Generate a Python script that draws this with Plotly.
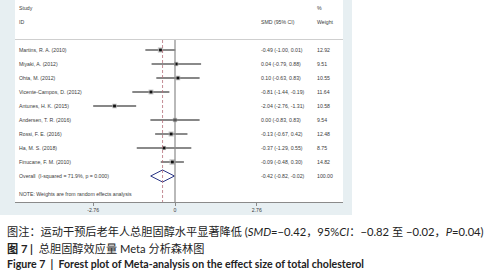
import plotly.graph_objects as go

studies = ["Martins, R. A. (2010)", "Miyaki, A. (2012)", "Ohta, M. (2012)",
           "Vicente-Campos, D. (2012)", "Antunes, H. K. (2015)", "Andersen, T. R. (2016)",
           "Rossi, F. E. (2016)", "Ha, M. S. (2018)", "Finucane, F. M. (2010)"]
smd = [-0.49, 0.04, 0.10, -0.81, -2.04, 0.00, -0.13, -0.37, -0.09]
ci_low = [-1.00, -0.79, -0.63, -1.44, -2.76, -0.83, -0.67, -1.29, -0.48]
ci_high = [0.01, 0.88, 0.83, -0.19, -1.31, 0.83, 0.42, 0.55, 0.30]
weights = [12.92, 9.51, 10.55, 11.64, 10.58, 9.54, 12.48, 8.75, 14.82]
overall_label = "Overall  (I-squared = 71.9%, p = 0.000)"
overall_smd = -0.42
overall_low = -0.82
overall_high = -0.02
overall_weight = 100.00
tick_vals = [-2.76, 0, 2.76]
tick_text = ["-2.76", "0", "2.76"]

# styling (not data)
ci_gray = [True, True, False, False, False, False, True, True, True]
TXT = "#3c3c3c"
FS = 5.2
FONT = "Liberation Sans, Arial, sans-serif"

# layout geometry (pixels)
W, H = 492, 276
PL, PR, PT, PB = 15, 343, 0, 202   # plot area
px_per_unit = 29.65
x_zero_px = 175
xmin = (PL - x_zero_px) / px_per_unit
xmax = (PR - x_zero_px) / px_per_unit
row0_px, row_step = 50, 14
ytop = (PT - row0_px) / row_step
ybot = (PB - row0_px) / row_step

def py(p):  # pixel y -> row coordinate
    return (p - row0_px) / row_step

def paper_x(p):
    return (p - PL) / (PR - PL)

def paper_y(p):
    return 1 - (p - PT) / (PB - PT)

fig = go.Figure()

rows = list(range(len(studies)))
for i in rows:
    col = "#8a8a8a" if ci_gray[i] else "#111111"
    wid = 2.0 if ci_gray[i] else 1.2
    fig.add_trace(go.Scatter(x=[ci_low[i], ci_high[i]], y=[i, i], mode="lines",
                             line=dict(color=col, width=wid), showlegend=False,
                             hoverinfo="skip"))
# weight boxes
fig.add_trace(go.Scatter(x=smd, y=rows, mode="markers",
                         marker=dict(symbol="square", color="#b0b0b0",
                                     size=[2.0 + w * 0.25 for w in weights], line=dict(width=0)),
                         showlegend=False, hoverinfo="skip"))
fig.add_trace(go.Scatter(x=smd, y=rows, mode="markers",
                         marker=dict(symbol="square", color="#111111", size=2.8, line=dict(width=0)),
                         showlegend=False, hoverinfo="skip"))
# overall diamond
oy = len(studies)
dh = 0.43
fig.add_trace(go.Scatter(x=[overall_low, overall_smd, overall_high, overall_smd, overall_low],
                         y=[oy, oy - dh, oy, oy + dh, oy], mode="lines",
                         line=dict(color="#2a3585", width=1.0), showlegend=False,
                         hoverinfo="skip"))

shapes = [
    # outer panel
    dict(type="rect", xref="paper", yref="paper", x0=paper_x(0), x1=paper_x(352),
         y0=paper_y(215), y1=paper_y(0), fillcolor="#e7eff2", line=dict(width=0), layer="below"),
    # white plot region
    dict(type="rect", xref="paper", yref="paper", x0=0, x1=1, y0=0, y1=1,
         fillcolor="white", line=dict(width=0), layer="below"),
    # header separator
    dict(type="line", xref="paper", yref="y", x0=0, x1=1, y0=py(39.5), y1=py(39.5),
         line=dict(color="#cfcfcf", width=1)),
    # zero line
    dict(type="line", xref="x", yref="y", x0=0, x1=0, y0=py(40), y1=ybot,
         line=dict(color="#8a8a8a", width=1.2)),
    # overall dashed line
    dict(type="line", xref="x", yref="y", x0=overall_smd, x1=overall_smd, y0=py(40), y1=ybot,
         line=dict(color="#b5707a", width=0.8, dash="3px,2px")),
]

ann = []
def txt(x_px, y_px, s, **kw):
    ann.append(dict(x=paper_x(x_px), y=y_px, xref="paper", yref="y", text=s,
                    showarrow=False, xanchor="left", yanchor="middle",
                    font=dict(size=FS, color=TXT, family=FONT), **kw))

txt(17, py(8), "Study")
txt(17, py(22), "ID")
txt(315, py(8), "%")
txt(259, py(22), "SMD (95% CI)")
txt(315, py(22), "Weight")
for i, s in enumerate(studies):
    txt(17, i, s)
    txt(259, i, f"{smd[i]:.2f} ({ci_low[i]:.2f}, {ci_high[i]:.2f})")
    txt(315, i, f"{weights[i]:.2f}")
txt(17, oy, overall_label)
txt(259, oy, f"{overall_smd:.2f} ({overall_low:.2f}, {overall_high:.2f})")
txt(315, oy, f"{overall_weight:.2f}")
txt(17, py(194), "NOTE: Weights are from random effects analysis")

CAP = "Lato, Noto Sans CJK SC, sans-serif"
def cap(y_px, s, size, color="#222222"):
    ann.append(dict(x=paper_x(5), y=paper_y(y_px), xref="paper", yref="paper", text=s,
                    showarrow=False, xanchor="left", yanchor="middle",
                    font=dict(size=size, color=color, family=CAP)))

cap(232, "图注：运动干预后老年人总胆固醇水平显著降低 (<i>SMD</i>=−0.42，95%<i>CI</i>：−0.82 至 −0.02，<i>P</i>=0.04)", 11.2)
cap(248, "<b>图 7 |</b>  总胆固醇效应量 Meta 分析森林图", 11.2)
cap(264, "<b>Figure 7  |  Forest plot of Meta-analysis on the effect size of total cholesterol</b>", 10.6)

fig.update_layout(
    width=W, height=H,
    margin=dict(l=PL, r=W - PR, t=PT, b=H - PB, pad=0),
    paper_bgcolor="white", plot_bgcolor="white",
    shapes=shapes, annotations=ann,
    xaxis=dict(range=[xmin, xmax], tickvals=tick_vals, ticktext=tick_text,
               showgrid=False, zeroline=False, showline=True, linecolor="#8a8a8a",
               linewidth=1, ticks="outside", ticklen=3, tickcolor="#8a8a8a",
               tickfont=dict(size=FS, color=TXT, family=FONT), fixedrange=True),
    yaxis=dict(range=[ybot, ytop], visible=False, fixedrange=True),
)

fig.write_html("out.html", config={"displayModeBar": False},
               post_script="document.body.style.margin='0';document.body.style.overflow='hidden';")
